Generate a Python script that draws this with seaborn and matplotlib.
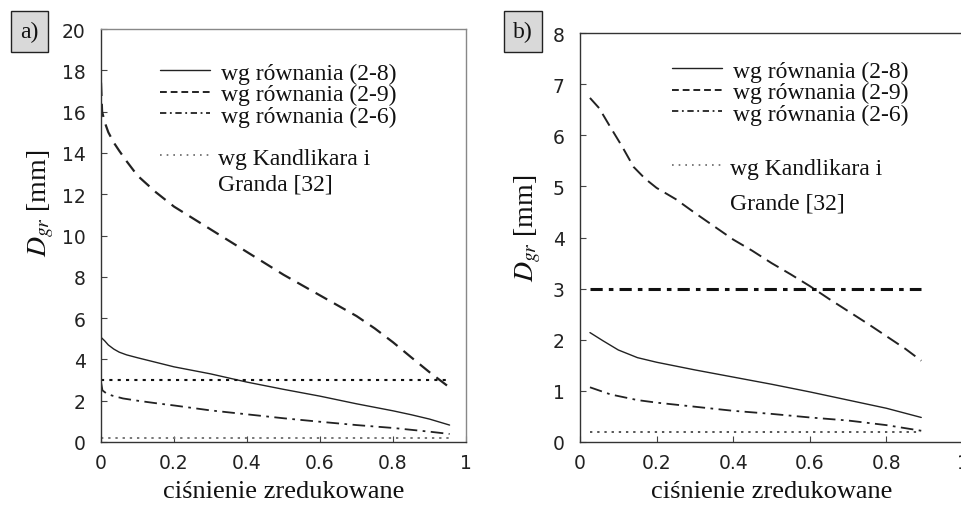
import matplotlib
matplotlib.use("Agg")
import matplotlib.pyplot as plt
import seaborn as sns
import pandas as pd
from matplotlib.lines import Line2D

sns.set_style("ticks")
plt.rcParams["font.family"] = ["DejaVu Sans"]
plt.rcParams["mathtext.fontset"] = "stix"

SERIF = ["Liberation Serif", "DejaVu Serif"]

# ---------------- data: panel a ----------------
a_x_29 = [0.0, 0.003, 0.01, 0.02, 0.035, 0.05, 0.07, 0.1, 0.15, 0.2, 0.3, 0.4, 0.5, 0.6, 0.7, 0.75, 0.8, 0.85, 0.9, 0.955]
a_y_29 = [17.4, 16.0, 15.5, 15.0, 14.5, 14.1, 13.6, 12.9, 12.1, 11.4, 10.3, 9.2, 8.1, 7.1, 6.1, 5.5, 4.83, 4.1, 3.38, 2.64]
a_x_28 = [0.0, 0.01, 0.02, 0.035, 0.05, 0.07, 0.1, 0.15, 0.2, 0.3, 0.4, 0.5, 0.6, 0.7, 0.8, 0.85, 0.9, 0.955]
a_y_28 = [5.07, 4.9, 4.7, 4.5, 4.35, 4.22, 4.08, 3.86, 3.64, 3.3, 2.9, 2.55, 2.22, 1.85, 1.51, 1.32, 1.11, 0.82]
a_x_26 = [0.0, 0.004, 0.015, 0.03, 0.06, 0.1, 0.15, 0.2, 0.3, 0.4, 0.5, 0.6, 0.7, 0.8, 0.9, 0.955]
a_y_26 = [2.9, 2.5, 2.35, 2.25, 2.11, 2.0, 1.88, 1.77, 1.53, 1.34, 1.15, 0.98, 0.82, 0.68, 0.5, 0.39]
a_kand_x = [0.0, 0.955]
a_kand_upper = [3.0, 3.0]
a_kand_lower = [0.2, 0.2]

# ---------------- data: panel b ----------------
b_x_29 = [0.026, 0.05, 0.08, 0.11, 0.14, 0.17, 0.2, 0.25, 0.3, 0.35, 0.4, 0.45, 0.5, 0.55, 0.6, 0.65, 0.7, 0.75, 0.8, 0.85, 0.891]
b_y_29 = [6.73, 6.53, 6.15, 5.78, 5.38, 5.15, 4.97, 4.75, 4.48, 4.22, 3.96, 3.74, 3.5, 3.28, 3.05, 2.8, 2.56, 2.32, 2.07, 1.82, 1.59]
b_x_28 = [0.026, 0.06, 0.1, 0.15, 0.2, 0.3, 0.4, 0.5, 0.6, 0.7, 0.8, 0.891]
b_y_28 = [2.14, 1.98, 1.8, 1.65, 1.56, 1.41, 1.27, 1.13, 0.98, 0.82, 0.66, 0.48]
b_x_26 = [0.026, 0.08, 0.15, 0.2, 0.3, 0.4, 0.5, 0.6, 0.7, 0.8, 0.891]
b_y_26 = [1.07, 0.93, 0.82, 0.77, 0.69, 0.61, 0.55, 0.48, 0.42, 0.33, 0.22]
b_kand_x = [0.026, 0.891]
b_kand_upper = [3.0, 3.0]
b_kand_lower = [0.2, 0.2]

labels_eq = ["wg równania (2-8)", "wg równania (2-9)", "wg równania (2-6)"]
label_kand_a = ["wg Kandlikara i", "Granda [32]"]
label_kand_b = ["wg Kandlikara i", "Grande [32]"]
xlabel = "ciśnienie zredukowane"
ylabel = r"$D_{gr}$" + " [mm]"
xticks = [0, 0.2, 0.4, 0.6, 0.8, 1]
xticklabels = ["0", "0.2", "0.4", "0.6", "0.8", "1"]
a_yticks = list(range(0, 21, 2))
b_yticks = list(range(0, 9))

W, H = 962, 506
fig = plt.figure(figsize=(W / 100, H / 100), dpi=100)

def box(l, r, t, b):
    return [l / W, 1 - b / H, (r - l) / W, (b - t) / H]

ax_a = fig.add_axes(box(101, 466, 30, 443))
ax_b = fig.add_axes(box(580, 963, 34, 443))

S_SOLID = "-"
S_DASH_A = (0, (6, 3.5))
S_DASH_B = (0, (7, 3.5))
S_DASHDOT = (0, (7, 3, 1.5, 3))
S_DOT = (0, (1.2, 2.5))

def line(ax, x, y, ls, lw, color):
    df = pd.DataFrame({"x": x, "y": y})
    sns.lineplot(data=df, x="x", y="y", ax=ax, estimator=None, sort=False,
                 color=color, linewidth=lw, linestyle=ls)

# panel a
line(ax_a, a_x_29, a_y_29, S_DASH_A, 1.6, "#222222")
line(ax_a, a_x_28, a_y_28, S_SOLID, 1.0, "#222222")
line(ax_a, a_x_26, a_y_26, S_DASHDOT, 1.3, "#222222")
line(ax_a, a_kand_x, a_kand_upper, (0, (1.5, 2.5)), 1.5, "#111111")
line(ax_a, a_kand_x, a_kand_lower, S_DOT, 1.4, "#777777")

# panel b
line(ax_b, b_x_29, b_y_29, S_DASH_B, 1.4, "#222222")
line(ax_b, b_x_28, b_y_28, S_SOLID, 1.0, "#222222")
line(ax_b, b_x_26, b_y_26, S_DASHDOT, 1.3, "#222222")
line(ax_b, b_kand_x, b_kand_upper, (0, (4, 2, 1.5, 2)), 2.2, "#111111")
line(ax_b, b_kand_x, b_kand_lower, S_DOT, 1.4, "#555555")

for ax, yt, ylim in ((ax_a, a_yticks, 20), (ax_b, b_yticks, 8)):
    ax.set_xlim(0, 1)
    ax.set_ylim(0, ylim)
    ax.set_xticks(xticks)
    ax.set_xticklabels(xticklabels)
    ax.set_yticks(yt)
    ax.set_yticklabels([str(v) for v in yt])
    ax.tick_params(direction="in", length=4, width=0.8, color="#444444",
                   labelsize=13.5, labelcolor="#222222")
    ax.tick_params(axis="x", pad=8)
    ax.tick_params(axis="y", pad=11)
    for s in ax.spines.values():
        s.set_color("#333333")
        s.set_linewidth(1.0)
    ax.set_xlabel(xlabel, family=SERIF, fontsize=19, color="#111111", labelpad=6)
    ax.set_ylabel(ylabel, family=SERIF, fontsize=20, color="#111111")

ax_a.yaxis.set_label_coords((56 - 101) / 365, (443 - 203) / 413)
ax_b.yaxis.set_label_coords((543 - 580) / 383, (443 - 228) / 409)

ax_a.spines["top"].set_color("#888888")
ax_a.spines["right"].set_color("#888888")

def legends(ax, kand_labels, x0, y0, y1, sp2):
    h = [Line2D([], [], color="#222222", lw=1.0, ls=S_SOLID),
         Line2D([], [], color="#222222", lw=1.4, ls=(0, (3.5, 2))),
         Line2D([], [], color="#222222", lw=1.3, ls=(0, (3.5, 2, 1, 2)))]
    lg1 = ax.legend(h, labels_eq, loc="upper left", bbox_to_anchor=(x0, y0),
                    bbox_transform=fig.transFigure, frameon=False,
                    borderpad=0, borderaxespad=0, handlelength=2.1,
                    handletextpad=0.5, labelspacing=0.0,
                    prop={"family": SERIF, "size": 17})
    ax.add_artist(lg1)
    h2 = [Line2D([], [], color="#666666", lw=1.2, ls=(0, (1, 3))),
          Line2D([], [], color="none")]
    lg2 = ax.legend(h2, kand_labels, loc="upper left", bbox_to_anchor=(x0, y1),
                    bbox_transform=fig.transFigure, frameon=False,
                    borderpad=0, borderaxespad=0, handlelength=2.1,
                    handletextpad=0.35, labelspacing=sp2,
                    prop={"family": SERIF, "size": 17})
    for t in lg1.get_texts() + lg2.get_texts():
        t.set_color("#111111")

legends(ax_a, label_kand_a, 160 / W, 1 - 63 / H, 1 - 148 / H, 0.18)
legends(ax_b, label_kand_b, 672 / W, 1 - 61 / H, 1 - 158 / H, 0.55)

for txt, cx in (("a)", 29.5 / W), ("b)", 523 / W)):
    fig.text(cx, 1 - 32.5 / H, txt, family=SERIF, fontsize=17, ha="center",
             va="center", color="#111111",
             bbox=dict(boxstyle="square,pad=0.4", facecolor="#d9d9d9",
                       edgecolor="#222222", linewidth=1.0))

fig.savefig("out.png", dpi=100)
